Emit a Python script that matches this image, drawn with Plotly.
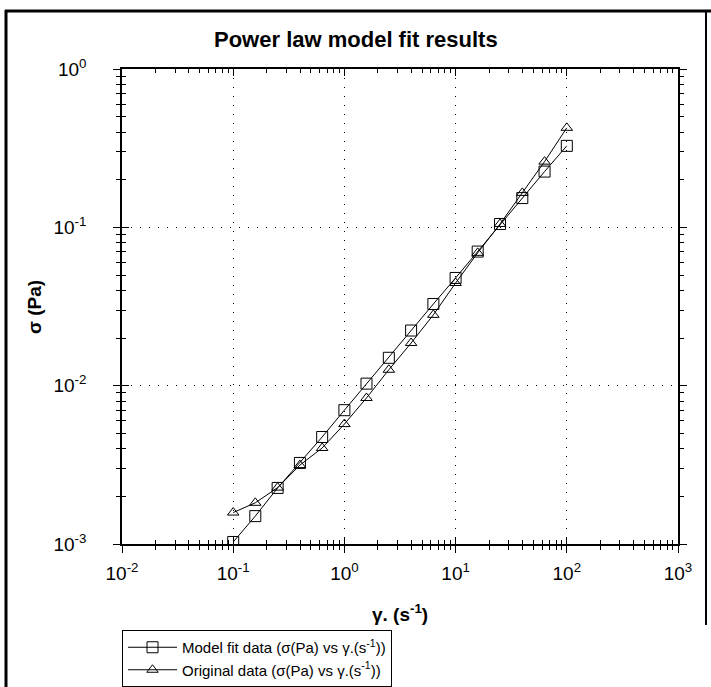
import plotly.graph_objects as go

# Shear rate (s^-1) and shear stress (Pa)
shear_rate = [0.1, 0.158, 0.251, 0.398, 0.631, 1.0, 1.58, 2.51, 3.98, 6.31,
              10.0, 15.8, 25.1, 39.8, 63.1, 100.0]
stress_model = [0.00103, 0.00150, 0.00226, 0.00325, 0.00474, 0.00700, 0.0103,
                0.0150, 0.0223, 0.0328, 0.0479, 0.0703, 0.105, 0.153, 0.225, 0.327]
stress_orig = [0.00158, 0.00182, 0.00227, 0.00315, 0.00404, 0.00572, 0.00836,
               0.0126, 0.0186, 0.0280, 0.0445, 0.0690, 0.105, 0.165, 0.260, 0.425]

x_major = [0.01, 0.1, 1, 10, 100, 1000]
x_labels = ["10<sup>-2</sup>", "10<sup>-1</sup>", "10<sup>0</sup>",
            "10<sup>1</sup>", "10<sup>2</sup>", "10<sup>3</sup>"]
y_major = [0.001, 0.01, 0.1, 1]
y_labels = ["10<sup>-3</sup>", "10<sup>-2</sup>", "10<sup>-1</sup>", "10<sup>0</sup>"]

title_text = "Power law model fit results"
x_title = "γ. (s<sup>-1</sup>)"
y_title = "σ (Pa)"
names = ["Model fit data (σ(Pa) vs γ.(s<sup>-1</sup>))",
         "Original data (σ(Pa) vs γ.(s<sup>-1</sup>))"]


def minor_between(majors):
    vals = []
    for m in majors[:-1]:
        vals += [m * k for k in range(2, 10)]
    return vals


x_minor = minor_between(x_major)
y_minor = minor_between(y_major)

FONT = "Liberation Sans, Arial, sans-serif"
W, H = 711, 687
L, R, T, B = 122, 33, 69, 143
PW, PH = W - L - R, H - T - B


def px(x):
    return (x - L) / PW


def py(y):
    return (H - B - y) / PH


fig = go.Figure()
fig.add_trace(go.Scatter(
    x=shear_rate, y=stress_model, name=names[0], mode="lines+markers",
    line=dict(color="black", width=1),
    marker=dict(symbol="square-open", size=11, color="black", line=dict(width=1)),
))
fig.add_trace(go.Scatter(
    x=shear_rate, y=stress_orig, name=names[1], mode="lines+markers",
    line=dict(color="black", width=1),
    marker=dict(symbol="triangle-up-open", size=10, color="black", line=dict(width=1)),
))
# companion axes that carry the inward half of the crossing ticks
fig.add_trace(go.Scatter(
    x=shear_rate, y=stress_model, xaxis="x2", yaxis="y2", mode="markers",
    marker=dict(opacity=0), showlegend=False, hoverinfo="skip",
))

common = dict(type="log", color="black", linecolor="black", tickcolor="black",
              zeroline=False, tickwidth=1, automargin=False)

fig.update_layout(
    width=W, height=H, autosize=False,
    margin=dict(l=L, r=R, t=T, b=B, autoexpand=False),
    paper_bgcolor="white", plot_bgcolor="white",
    font=dict(family=FONT, color="black"),
    showlegend=True,
    xaxis=dict(
        **common, range=[-2, 3], tickvals=x_major, ticktext=x_labels,
        ticks="outside", ticklen=7, showline=True, linewidth=1.5,
        showgrid=True, gridcolor="black", gridwidth=1, griddash="1px,8px",
        tickfont=dict(size=19, family=FONT), ticklabelstandoff=4,
        minor=dict(tickvals=x_minor, ticks="outside", ticklen=4,
                   tickcolor="black", showgrid=False),
    ),
    xaxis2=dict(
        **common, range=[-2, 3], overlaying="x", anchor="y2", side="bottom",
        tickvals=x_major, ticks="inside", ticklen=7, showticklabels=False,
        showline=True, linewidth=1.5, mirror="ticks", showgrid=False,
        minor=dict(tickvals=x_minor, ticks="inside", ticklen=4,
                   tickcolor="black", showgrid=False),
    ),
    yaxis=dict(
        **common, range=[-3, 0], tickvals=y_major, ticktext=y_labels,
        ticks="outside", ticklen=7, showline=True, linewidth=1.5, mirror="ticks",
        showgrid=True, gridcolor="black", gridwidth=1, griddash="1px,8px",
        tickfont=dict(size=19, family=FONT), ticklabelstandoff=23,
        minor=dict(tickvals=y_minor, ticks="outside", ticklen=4,
                   tickcolor="black", showgrid=False),
    ),
    yaxis2=dict(
        **common, range=[-3, 0], overlaying="y", anchor="x2", side="left",
        tickvals=y_major, ticks="inside", ticklen=7, showticklabels=False,
        showline=False, showgrid=False,
        minor=dict(tickvals=y_minor, ticks="inside", ticklen=4,
                   tickcolor="black", showgrid=False),
    ),
    legend=dict(
        x=0, y=py(630), xanchor="left", yanchor="top",
        bordercolor="black", borderwidth=1, bgcolor="white",
        font=dict(size=15, family=FONT), itemwidth=49,
        tracegroupgap=0, traceorder="normal",
    ),
    annotations=[
        dict(text="<b>" + title_text + "</b>", x=px(356), y=py(40),
             xref="paper", yref="paper", showarrow=False,
             font=dict(size=22, family=FONT), xanchor="center", yanchor="middle"),
        dict(text="<b>" + x_title + "</b>", x=px(400), y=py(613),
             xref="paper", yref="paper", showarrow=False,
             font=dict(size=19, family=FONT), xanchor="center", yanchor="middle"),
        dict(text="<b>" + y_title + "</b>", x=px(34), y=py(307),
             xref="paper", yref="paper", showarrow=False, textangle=-90,
             font=dict(size=19, family=FONT), xanchor="center", yanchor="middle"),
    ],
    shapes=[
        dict(type="line", xref="paper", yref="paper", x0=px(6), x1=px(6),
             y0=py(10), y1=py(H), line=dict(color="black", width=3)),
        dict(type="line", xref="paper", yref="paper", x0=px(5), x1=px(W),
             y0=py(11), y1=py(11), line=dict(color="black", width=3)),
        dict(type="line", xref="paper", yref="paper", x0=px(706), x1=px(706),
             y0=py(10), y1=py(625), line=dict(color="black", width=2)),
    ],
)

fig.write_html("out.html")
